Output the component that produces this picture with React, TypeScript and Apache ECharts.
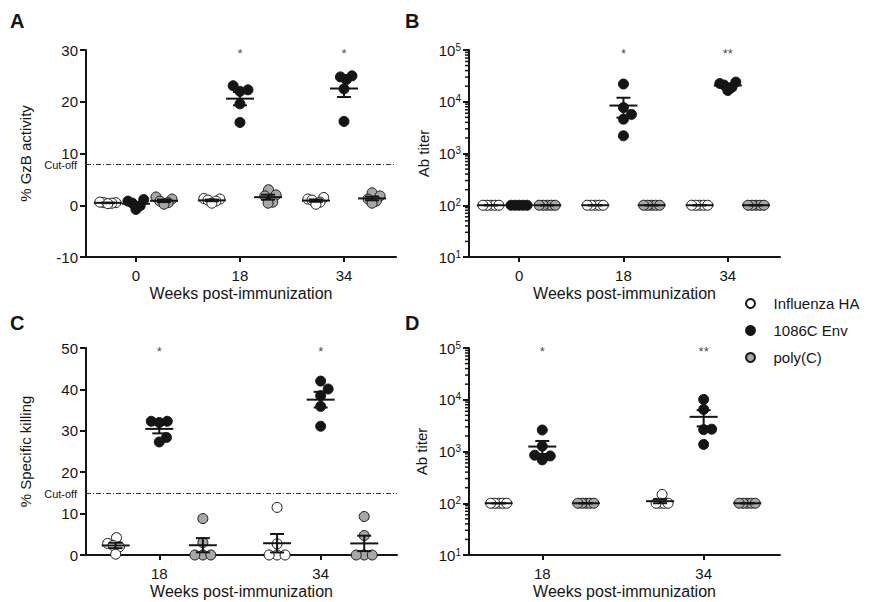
import React, { useEffect, useRef } from 'react';
import * as echarts from 'echarts';

// ---------- data ----------
const groupNames = ['Influenza HA', '1086C Env', 'poly(C)'];
const weeksAB = ['0', '18', '34'];
const weeksCD = ['18', '34'];

// Panel A: % GzB activity (5 animals per group, per week)
const gzbInfluenzaHA = [[0.5, 0.5, 0.6, 0.4, 0.3], [1.3, 1.2, 1.0, 0.8, 0.4], [1.5, 1.2, 1.0, 0.6, 0.2]];
const gzbEnv = [[1.1, 0.8, 0.4, -0.1, -0.8], [23.1, 22.0, 22.3, 19.6, 16.0], [25.0, 24.8, 24.3, 22.5, 16.2]];
const gzbPolyC = [[1.6, 1.2, 0.8, 0.5, 0.2], [3.0, 2.0, 1.8, 0.6, 0.4], [2.4, 1.8, 1.2, 0.8, 0.4]];
const gzbSignificance = ['', '*', '*'];
const gzbCutoff = 8;
const gzbTicks = [-10, 30, 10];

// Panel B: Ab titer
const titerBInfluenzaHA = [[100, 100, 100, 100, 100], [100, 100, 100, 100, 100], [100, 100, 100, 100, 100]];
const titerBEnv = [[100, 100, 100, 100, 100], [22000, 7700, 5700, 4600, 2200], [24000, 22500, 21000, 19000, 16500]];
const titerBPolyC = [[100, 100, 100, 100, 100], [100, 100, 100, 100, 100], [100, 100, 100, 100, 100]];
const titerBSignificance = ['', '*', '**'];

// Panel C: % specific killing
const killInfluenzaHA = [[4.2, 2.8, 2.3, 2.0, 0.2], [11.5, 2.7, 0, 0, 0]];
const killEnv = [[32.3, 32.3, 32.0, 28.4, 27.3], [42.0, 40.1, 38.5, 35.9, 31.1]];
const killPolyC = [[8.8, 3.0, 0, 0, 0], [9.3, 4.7, 0, 0, 0]];
const killSignificance = ['*', '*'];
const killCutoff = 15;
const killTicks = [0, 50, 10];

// Panel D: Ab titer
const titerDInfluenzaHA = [[100, 100, 100, 100, 100], [148, 100, 100, 100, 100]];
const titerDEnv = [[2600, 1270, 850, 820, 690], [10150, 6500, 2700, 2650, 1370]];
const titerDPolyC = [[100, 100, 100, 100, 100], [100, 100, 100, 100, 100]];
const titerDSignificance = ['*', '**'];

const titerRange = [10, 100000];

// ---------- styling ----------
const FONT = 'Liberation Sans, Arial, Helvetica, sans-serif';
const INK = '#151515';
const groupFill = ['#ffffff', '#151515', '#a7a7a7'];
const groupShift = [-0.27, 0, 0.27];
const DOT = 10;

type Panel = {
  grid: { left: number; top: number; width: number; height: number };
  xMin: number;
  xMax: number;
  weeks: string[];
  groups: number[][][];
  log: boolean;
  yMin: number;
  yMax: number;
  interval?: number;
  yName: string;
  yNameGap: number;
  cutoff?: number;
  sig: string[];
};

const panels: Panel[] = [
  {
    grid: { left: 86, top: 50, width: 310, height: 207 },
    xMin: -0.48, xMax: 2.5, weeks: weeksAB,
    groups: [gzbInfluenzaHA, gzbEnv, gzbPolyC],
    log: false, yMin: gzbTicks[0], yMax: gzbTicks[1], interval: gzbTicks[2],
    yName: '% GzB activity', yNameGap: 53, cutoff: gzbCutoff, sig: gzbSignificance,
  },
  {
    grid: { left: 469, top: 50, width: 311, height: 207 },
    xMin: -0.48, xMax: 2.5, weeks: weeksAB,
    groups: [titerBInfluenzaHA, titerBEnv, titerBPolyC],
    log: true, yMin: titerRange[0], yMax: titerRange[1],
    yName: 'Ab titer', yNameGap: 38, sig: titerBSignificance,
  },
  {
    grid: { left: 86, top: 348, width: 311, height: 207 },
    xMin: -0.454, xMax: 1.473, weeks: weeksCD,
    groups: [killInfluenzaHA, killEnv, killPolyC],
    log: false, yMin: killTicks[0], yMax: killTicks[1], interval: killTicks[2],
    yName: '% Specific killing', yNameGap: 53, cutoff: killCutoff, sig: killSignificance,
  },
  {
    grid: { left: 469, top: 348, width: 311, height: 207 },
    xMin: -0.454, xMax: 1.473, weeks: weeksCD,
    groups: [titerDInfluenzaHA, titerDEnv, titerDPolyC],
    log: true, yMin: titerRange[0], yMax: titerRange[1],
    yName: 'Ab titer', yNameGap: 40, sig: titerDSignificance,
  },
];

// ---------- helpers ----------
function meanSem(vals: number[]) {
  const n = vals.length;
  const m = vals.reduce((a, b) => a + b, 0) / n;
  const sd = Math.sqrt(vals.reduce((a, b) => a + (b - m) * (b - m), 0) / (n - 1));
  return [m, sd / Math.sqrt(n)];
}

// horizontal spread (in px) of overlapping dots, like a scatter dot plot
function swarm(vals: number[], toPx: (v: number) => number, minDist = 10, maxHalf = 8) {
  const py = vals.map(toPx);
  const order = vals.map((_, i) => i).sort((a, b) => py[a] - py[b]);
  const placed: { x: number; y: number }[] = [];
  const offs = new Array(vals.length).fill(0);
  for (const i of order) {
    let chosen = 0;
    outer: for (let k = 0; k <= 80; k += 0.5) {
      const cands = k === 0 ? [0] : [k, -k];
      for (const c of cands) {
        if (placed.every((p) => Math.hypot(p.x - c, p.y - py[i]) >= minDist - 1e-6)) {
          chosen = c;
          break outer;
        }
      }
    }
    offs[i] = chosen;
    placed.push({ x: chosen, y: py[i] });
  }
  const m = Math.max(...offs.map(Math.abs));
  return m > maxHalf ? offs.map((o) => (o * maxHalf) / m) : offs;
}

function sup(n: number) {
  return '{b|10}{s|' + n + '}';
}

function buildOption() {
  const grids: any[] = [];
  const xAxes: any[] = [];
  const yAxes: any[] = [];
  const series: any[] = [];

  panels.forEach((p, pi) => {
    grids.push({ ...p.grid, containLabel: false });
    const tickIdx = p.weeks.map((_, i) => i);
    xAxes.push({
      type: 'value', gridIndex: pi, min: p.xMin, max: p.xMax,
      axisLine: { show: true, onZero: false, lineStyle: { color: INK, width: 2 } },
      axisTick: { show: true, customValues: tickIdx, length: 5, lineStyle: { color: INK, width: 2 } },
      axisLabel: {
        show: true, customValues: tickIdx, margin: 11, fontSize: 15, color: INK, fontFamily: FONT,
        formatter: (v: number) => p.weeks[Math.round(v)],
      },
      splitLine: { show: false },
      name: 'Weeks post-immunization', nameLocation: 'middle', nameGap: 28,
      nameTextStyle: { fontSize: 16, color: INK, fontFamily: FONT },
    });
    const yBase: any = {
      gridIndex: pi, min: p.yMin, max: p.yMax,
      axisLine: { show: true, onZero: false, lineStyle: { color: INK, width: 2 } },
      axisTick: { show: true, length: 6, lineStyle: { color: INK, width: 2 } },
      splitLine: { show: false },
      name: p.yName, nameLocation: 'middle', nameGap: p.yNameGap,
      nameTextStyle: { fontSize: 15, color: INK, fontFamily: FONT },
    };
    if (p.log) {
      yAxes.push({
        ...yBase, type: 'log', logBase: 10,
        axisLabel: {
          margin: 8, color: INK, fontFamily: FONT,
          formatter: (v: number) => sup(Math.round(Math.log10(v))),
          rich: {
            b: { fontSize: 15, color: INK, fontFamily: FONT, lineHeight: 16 },
            s: { fontSize: 10, color: INK, fontFamily: FONT, lineHeight: 10, verticalAlign: 'top' },
          },
        },
      });
    } else {
      yAxes.push({
        ...yBase, type: 'value', interval: p.interval,
        axisLabel: { margin: 8, fontSize: 15, lineHeight: 14, color: INK, fontFamily: FONT },
      });
    }

    const H = p.grid.height;
    const toPx = p.log
      ? (v: number) => ((Math.log10(v) - Math.log10(p.yMin)) / (Math.log10(p.yMax) - Math.log10(p.yMin))) * H
      : (v: number) => ((v - p.yMin) / (p.yMax - p.yMin)) * H;

    // dots
    p.groups.forEach((g, gi) => {
      const data: any[] = [];
      g.forEach((vals, wi) => {
        const offs = swarm(vals, toPx, DOT, 8);
        vals.forEach((v, k) => {
          data.push({ value: [wi + groupShift[gi], v], symbolOffset: [offs[k], 0] });
        });
      });
      const s: any = {
        type: 'scatter', name: groupNames[gi], xAxisIndex: pi, yAxisIndex: pi,
        symbol: 'circle', symbolSize: DOT, clip: false, z: 3,
        itemStyle: { color: groupFill[gi], borderColor: INK, borderWidth: 1, opacity: 1 },
        emphasis: { disabled: true },
        data,
      };
      if (gi === 0 && p.cutoff !== undefined) {
        s.markLine = {
          silent: true, symbol: 'none', animation: false,
          lineStyle: { color: '#333', width: 1, type: [5, 2, 1, 2] },
          label: {
            show: true, position: 'start', formatter: 'Cut-off', fontSize: 11, lineHeight: 10,
            color: INK, fontFamily: FONT, distance: 9, textBorderWidth: 0, offset: [0, 1],
          },
          data: [{ yAxis: p.cutoff }],
        };
      }
      series.push(s);
    });

    // mean ± SEM
    const statData: number[][] = [];
    p.groups.forEach((g, gi) => {
      g.forEach((vals, wi) => {
        const [m, se] = meanSem(vals);
        statData.push([wi + groupShift[gi], m, m - se, m + se]);
      });
    });
    series.push({
      type: 'custom', name: 'stats' + pi, xAxisIndex: pi, yAxisIndex: pi, z: 5, clip: false,
      encode: { x: 0, y: [1, 2, 3] },
      renderItem: (params: any, api: any) => {
        const x = api.value(0);
        const c = api.coord([x, api.value(1)]);
        const lo = api.coord([x, api.value(2)]);
        const hi = api.coord([x, api.value(3)]);
        const st = { stroke: INK, lineWidth: 2 };
        const mw = 14;
        const cw = 7;
        return {
          type: 'group',
          children: [
            { type: 'line', shape: { x1: c[0] - mw, y1: c[1], x2: c[0] + mw, y2: c[1] }, style: st },
            { type: 'line', shape: { x1: c[0], y1: lo[1], x2: c[0], y2: hi[1] }, style: st },
            { type: 'line', shape: { x1: c[0] - cw, y1: lo[1], x2: c[0] + cw, y2: lo[1] }, style: st },
            { type: 'line', shape: { x1: c[0] - cw, y1: hi[1], x2: c[0] + cw, y2: hi[1] }, style: st },
          ],
        };
      },
      data: statData,
    });

    // significance marks
    const sigData: any[] = [];
    p.sig.forEach((s, wi) => {
      if (s) sigData.push({ value: [wi + groupShift[1], p.yMax], sig: s });
    });
    series.push({
      type: 'scatter', name: 'sig' + pi, xAxisIndex: pi, yAxisIndex: pi, clip: false,
      symbolSize: 1, itemStyle: { color: 'rgba(0,0,0,0)' }, z: 6,
      label: {
        show: true, position: 'inside', offset: [0, 3], fontSize: 13, color: INK, fontFamily: FONT,
        textBorderWidth: 0, textBorderColor: 'transparent',
        formatter: (q: any) => q.data.sig,
      },
      data: sigData,
    });

    // minor ticks on log axis (2..9 × 10^n)
    if (p.log) {
      const minor: number[][] = [];
      for (let d = Math.log10(p.yMin); d < Math.log10(p.yMax); d++) {
        for (let m = 2; m <= 9; m++) minor.push([p.xMin, m * Math.pow(10, d)]);
      }
      series.push({
        type: 'custom', name: 'minor' + pi, xAxisIndex: pi, yAxisIndex: pi, clip: false, z: 4,
        renderItem: (params: any, api: any) => {
          const c = api.coord([api.value(0), api.value(1)]);
          return { type: 'line', shape: { x1: c[0] - 4, y1: c[1], x2: c[0], y2: c[1] }, style: { stroke: INK, lineWidth: 1.5 } };
        },
        data: minor,
      });
    }
  });

  const letters = [
    { t: 'A', x: 10, y: 11 },
    { t: 'B', x: 405, y: 11 },
    { t: 'C', x: 10, y: 313 },
    { t: 'D', x: 405, y: 313 },
  ];

  return {
    animation: false,
    backgroundColor: '#ffffff',
    textStyle: { fontFamily: FONT },
    grid: grids,
    xAxis: xAxes,
    yAxis: yAxes,
    legend: {
      data: groupNames, orient: 'vertical', left: 740, top: 291,
      itemWidth: 36, itemHeight: 9, itemGap: 12, icon: 'circle', selectedMode: false,
      textStyle: { fontSize: 15, color: INK, fontFamily: FONT },
    },
    graphic: letters.map((l) => ({
      type: 'text', left: l.x, top: l.y,
      style: { text: l.t, fontSize: 20, fontWeight: 'bold', fill: INK, fontFamily: FONT },
    })),
    series,
  };
}

export default function App() {
  const ref = useRef<HTMLDivElement>(null);
  useEffect(() => {
    if (!ref.current) return;
    const chart = echarts.init(ref.current, undefined, { renderer: 'svg' });
    chart.setOption(buildOption() as any);
    return () => chart.dispose();
  }, []);
  return <div ref={ref} style={{ position: 'fixed', left: 0, top: 0, width: 870, height: 602, background: '#fff' }} />;
}
